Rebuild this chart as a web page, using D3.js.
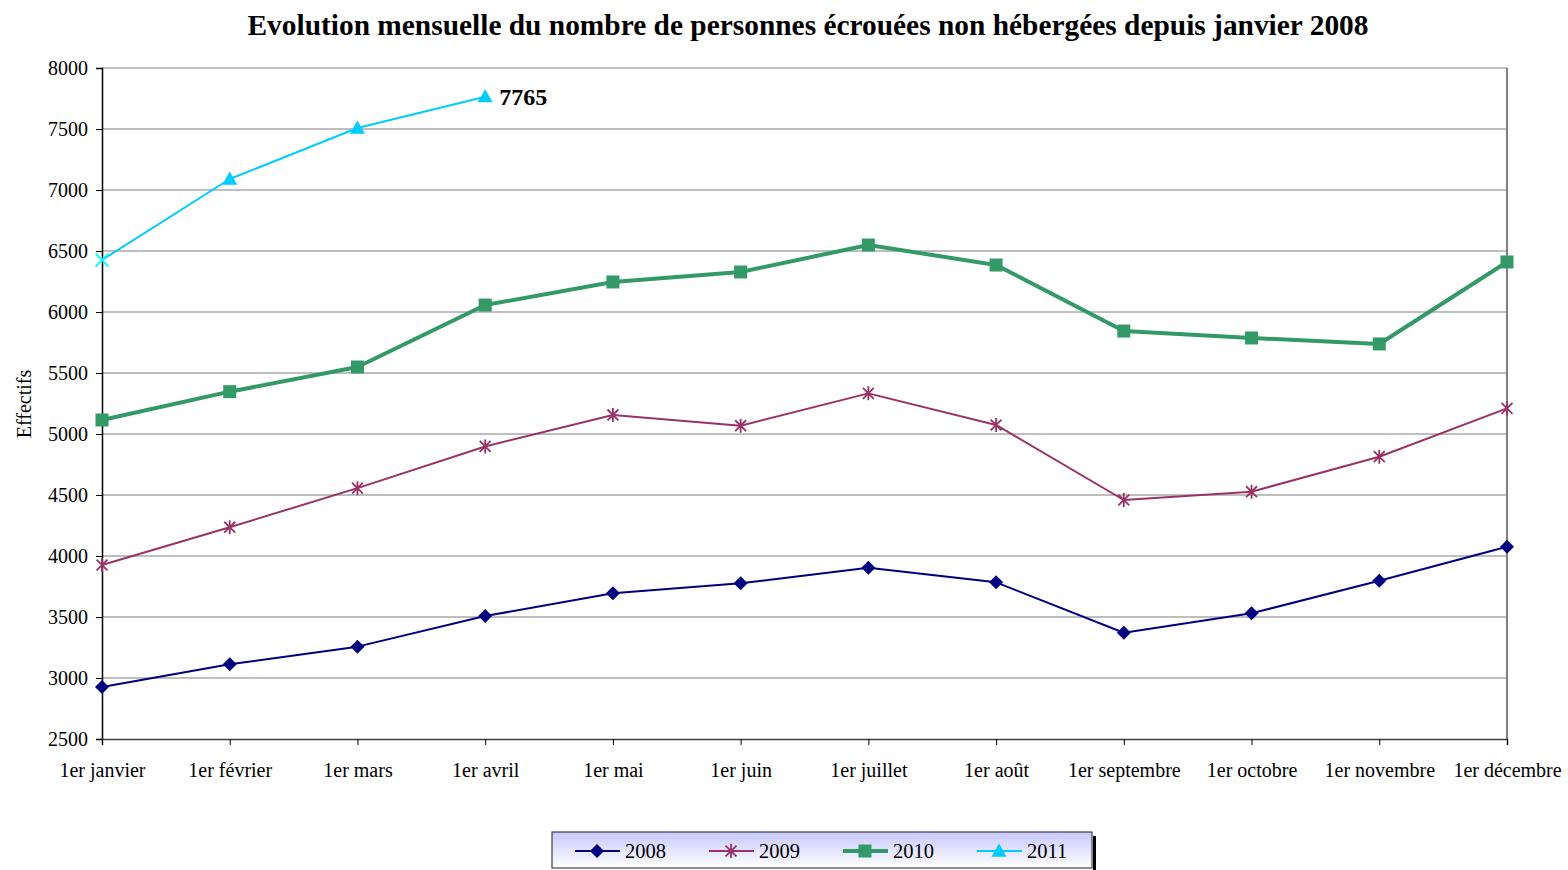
<!DOCTYPE html>
<html>
<head>
<meta charset="utf-8">
<script src="https://cdn.jsdelivr.net/npm/d3@7"></script>
<style>
  html, body { margin: 0; padding: 0; background: #fff; }
  svg { display: block; }
  text { font-family: "Liberation Serif", "Times New Roman", serif; fill: #000; }
</style>
</head>
<body>
<svg id="chart" width="1568" height="870"></svg>
<script>
// ---------- data ----------
const months = ["1er janvier","1er février","1er mars","1er avril","1er mai","1er juin",
                "1er juillet","1er août","1er septembre","1er octobre","1er novembre","1er décembre"];
const yTicks = [2500,3000,3500,4000,4500,5000,5500,6000,6500,7000,7500,8000];
const values2008 = [2926,3112,3257,3508,3694,3776,3904,3784,3371,3530,3797,4076];
const values2009 = [3926,4236,4556,4898,5156,5068,5333,5074,4459,4527,4814,5210];
const values2010 = [5115,5347,5549,6057,6246,6328,6549,6385,5844,5787,5738,6410];
const values2011 = [6426,7090,7508,7765];
const seriesNames = ["2008","2009","2010","2011"];
const title = "Evolution mensuelle du nombre de personnes écrouées non hébergées depuis janvier 2008";
const yTitle = "Effectifs";
const lastLabel = "7765";

const series = [
  {name: seriesNames[0], values: values2008, color: "#000080", width: 2,   marker: "diamond"},
  {name: seriesNames[1], values: values2009, color: "#993366", width: 2,   marker: "star"},
  {name: seriesNames[2], values: values2010, color: "#339966", width: 4,   marker: "square"},
  {name: seriesNames[3], values: values2011, color: "#00CCFF", width: 2,   marker: "triangle"}
];

// ---------- layout ----------
const plot = {left: 102, right: 1507, top: 68, bottom: 739};
const svg = d3.select("#chart");

const x = d3.scalePoint().domain(months).range([plot.left, plot.right]);
const y = d3.scaleLinear().domain([2500, 8000]).range([plot.bottom, plot.top]);

// marker path generators
function markerPath(type) {
  switch (type) {
    case "diamond": { const r = 7;   return `M0,${-r}L${r},0L0,${r}L${-r},0Z`; }
    case "square":  { const s = 6.5; return `M${-s},${-s}H${s}V${s}H${-s}Z`; }
    case "triangle":{ const r = 7.5; return `M0,${-r}L${r},${r*0.75}L${-r},${r*0.75}Z`; }
    case "star":    { const r = 7;   const d = r*0.78;
                      return `M0,${-r}V${r}M${-d},${-d}L${d},${d}M${-d},${d}L${d},${-d}`; }
    case "cross":   { const d = 6.5; return `M${-d},${-d}L${d},${d}M${-d},${d}L${d},${-d}`; }
  }
}

// title
svg.append("text")
  .attr("x", 808).attr("y", 35)
  .attr("text-anchor", "middle")
  .style("font-size", "29.4px").style("font-weight", "bold")
  .text(title);

// gridlines
svg.append("g")
  .selectAll("line").data(yTicks.filter(t => t > 2500)).join("line")
  .attr("x1", plot.left).attr("x2", plot.right)
  .attr("y1", d => y(d)).attr("y2", d => y(d))
  .attr("stroke", "#7f7f7f").attr("stroke-width", 1.2);

// right border of plot
svg.append("line")
  .attr("x1", plot.right).attr("x2", plot.right)
  .attr("y1", plot.top).attr("y2", plot.bottom)
  .attr("stroke", "#7f7f7f").attr("stroke-width", 2);

// y axis
const yAxis = svg.append("g")
  .attr("transform", `translate(${plot.left},0)`)
  .call(d3.axisLeft(y).tickValues(yTicks).tickSize(6).tickPadding(8).tickFormat(d3.format("d")));
yAxis.select(".domain").attr("stroke", "#000").attr("stroke-width", 1.5);
yAxis.selectAll(".tick line").attr("stroke", "#000");
yAxis.selectAll("text").style("font-size", "20px").style("font-family", "Liberation Serif");

// x axis
const xAxis = svg.append("g")
  .attr("transform", `translate(0,${plot.bottom})`)
  .call(d3.axisBottom(x).tickSize(6).tickPadding(18));
xAxis.select(".domain").attr("stroke", "#404040").attr("stroke-width", 1.5);
xAxis.selectAll(".tick line").attr("stroke", "#000");
xAxis.selectAll("text").style("font-size", "20px").style("font-family", "Liberation Serif");

// y title
svg.append("text")
  .attr("transform", `translate(31,404) rotate(-90)`)
  .attr("text-anchor", "middle")
  .style("font-size", "20px")
  .text(yTitle);

// lines + markers
const line = d3.line().x((d, i) => x(months[i])).y(d => y(d));
series.forEach(s => {
  svg.append("path")
    .datum(s.values)
    .attr("d", line)
    .attr("fill", "none")
    .attr("stroke", s.color)
    .attr("stroke-width", s.width)
    .attr("stroke-linejoin", "round");
  const isCross = (i) => s.name === "2011" && i === 0;
  svg.append("g").selectAll("path").data(s.values).join("path")
    .attr("transform", (d, i) => `translate(${x(months[i])},${y(d)})`)
    .attr("d", (d, i) => isCross(i) ? markerPath("cross") : markerPath(s.marker))
    .attr("fill", (d, i) => (s.marker === "star" || isCross(i)) ? "none" : s.color)
    .attr("stroke", (d, i) => isCross(i) ? "#00FFFF" : s.color)
    .attr("stroke-width", (d, i) => (s.marker === "star" || isCross(i)) ? 1.8 : 0);
});

// data label on last 2011 point
const s11 = series[3];
const lastIdx = s11.values.length - 1;
svg.append("text")
  .attr("x", x(months[lastIdx]) + 14)
  .attr("y", y(s11.values[lastIdx]) + 8)
  .style("font-size", "24px").style("font-weight", "bold")
  .text(lastLabel);

// legend
const defs = svg.append("defs");
const grad = defs.append("linearGradient").attr("id", "legGrad")
  .attr("x1", 0).attr("y1", 0).attr("x2", 0).attr("y2", 1);
grad.append("stop").attr("offset", "0%").attr("stop-color", "#c8c8ff");
grad.append("stop").attr("offset", "100%").attr("stop-color", "#ffffff");

const leg = {x: 552, y: 832, w: 540, h: 36};
svg.append("rect")
  .attr("x", leg.x + leg.w + 1).attr("y", leg.y + 4)
  .attr("width", 3).attr("height", leg.h)
  .attr("fill", "#000");
svg.append("rect")
  .attr("x", leg.x).attr("y", leg.y).attr("width", leg.w).attr("height", leg.h)
  .attr("fill", "url(#legGrad)").attr("stroke", "#404040").attr("stroke-width", 1.2);

const legItems = svg.append("g").selectAll("g").data(series).join("g")
  .attr("transform", (d, i) => `translate(${leg.x + 23 + i * 134},${leg.y + 19})`);
legItems.append("line")
  .attr("x1", 0).attr("x2", 45).attr("y1", 0).attr("y2", 0)
  .attr("stroke", d => d.color).attr("stroke-width", d => d.width);
legItems.append("path")
  .attr("transform", "translate(22,0)")
  .attr("d", d => markerPath(d.marker))
  .attr("fill", d => d.marker === "star" ? "none" : d.color)
  .attr("stroke", d => d.color)
  .attr("stroke-width", d => d.marker === "star" ? 1.8 : 0);
legItems.append("text")
  .attr("x", 50).attr("y", 7)
  .style("font-size", "20.5px")
  .text(d => d.name);
</script>
</body>
</html>
